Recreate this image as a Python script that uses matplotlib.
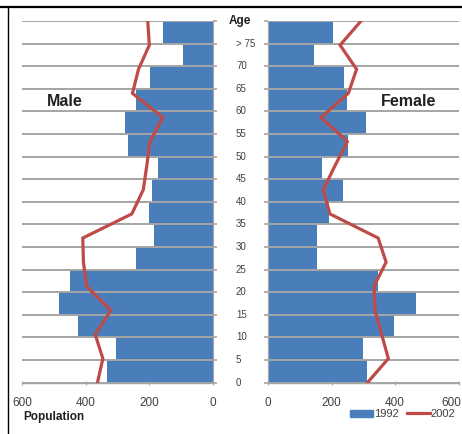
import numpy as np
import matplotlib
matplotlib.use('Agg')
import matplotlib.pyplot as plt
from matplotlib.transforms import blended_transform_factory, ScaledTranslation
from matplotlib.patches import Patch
from matplotlib.lines import Line2D

plt.rcParams['font.family'] = ['Liberation Sans', 'DejaVu Sans']

# age groups, bottom to top (label sits on the lower edge of each band)
age_labels = ['0', '5', '10', '15', '20', '25', '30', '35', '40', '45',
              '50', '55', '60', '65', '70', '> 75']

male_1992 = [334, 306, 425, 483, 449, 242, 184, 201, 191, 174, 266, 276, 242, 198, 95, 158]
female_1992 = [312, 298, 397, 465, 347, 153, 153, 192, 235, 169, 253, 308, 250, 240, 145, 206]
male_2002 = [363, 346, 370, 321, 397, 407, 409, 255, 219, 208, 198, 158, 253, 234, 200, 205]
female_2002 = [313, 379, 358, 337, 334, 372, 347, 195, 174, 211, 250, 167, 253, 279, 227, 293]

x_ticks = [0, 200, 400, 600]

BLUE = '#4A7EBB'
RED = '#BE4B48'
GRID = '#A5A5A5'
TXT = '#404040'

W, H = 462, 434
fig = plt.figure(figsize=(W / 100, H / 100), dpi=100)

n = len(age_labels)
bar_y = np.arange(n) + 0.5
line_y = np.linspace(0, n, len(male_2002))   # line points span the full height

ax_m = fig.add_axes([22 / W, 1 - 382.7 / H, 191 / W, 361.7 / H])
ax_f = fig.add_axes([268 / W, 1 - 382.7 / H, 190.5 / W, 361.7 / H])

for ax, bars, line in [(ax_m, male_1992, male_2002), (ax_f, female_1992, female_2002)]:
    ax.barh(bar_y, bars, height=1.0, color=BLUE, zorder=1)
    ax.plot(line, line_y, color=RED, lw=2.3, zorder=3, solid_joinstyle='miter')
    ax.set_ylim(0, n)
    ax.set_xlim(0, 600)
    ax.set_xticks(x_ticks)
    ax.set_xticklabels([str(t) for t in x_ticks])
    ax.set_yticks(np.arange(n + 1))
    ax.set_yticklabels([])
    ax.yaxis.grid(True, color=GRID, lw=1.4, zorder=2)
    ax.set_axisbelow(False)
    for s in ax.spines.values():
        s.set_visible(False)
    ax.spines['bottom'].set_visible(True)
    ax.spines['bottom'].set_color(GRID)
    ax.spines['bottom'].set_linewidth(1.0)
    ax.tick_params(axis='x', colors=GRID, labelcolor=TXT, labelsize=8.5,
                   length=3, direction='inout', pad=9)
    ax.tick_params(axis='y', colors=GRID, length=3, width=1.2, direction='out')

# male side runs right to left
ax_m.invert_xaxis()
ax_m.yaxis.tick_right()
ax_m.spines['right'].set_visible(True)
ax_m.spines['right'].set_color(GRID)
ax_f.spines['left'].set_visible(True)
ax_f.spines['left'].set_color(GRID)

# keep the last female tick label inside the image
last = ax_f.get_xticklabels()[-1]
last.set_transform(last.get_transform() + ScaledTranslation(-7 / 100, 0, fig.dpi_scale_trans))

# age labels between the two panels
tr = blended_transform_factory(fig.transFigure, ax_f.transData)
for i, lab in enumerate(age_labels):
    fig.text(236 / W, i, lab, transform=tr, ha='left', va='center',
             fontsize=7, color=TXT)
fig.text(229 / W, n, 'Age', transform=tr, ha='left', va='center',
         fontsize=8.5, fontweight='bold', color='#202020')

fig.text(65 / W, 1 - 102 / H, 'Male', ha='center', va='center',
         fontsize=11.5, fontweight='bold', color='#202020')
fig.text(409 / W, 1 - 102 / H, 'Female', ha='center', va='center',
         fontsize=11.5, fontweight='bold', color='#202020')
fig.text(23 / W, 1 - 417 / H, 'Population', ha='left', va='center',
         fontsize=8.5, fontweight='bold', color='#202020')

handles = [Patch(color=BLUE), Line2D([], [], color=RED, lw=2.3)]
fig.legend(handles, ['1992', '2002'], loc='center',
           bbox_to_anchor=(403 / W, 1 - 414 / H), ncol=2, frameon=False,
           fontsize=8, handlelength=2.0, handleheight=0.6, handletextpad=0.1,
           columnspacing=0.8, labelcolor=TXT)

# page border fragments
fig.add_artist(Line2D([0, 1], [1 - 7 / H, 1 - 7 / H], color='black', lw=1.6,
                      transform=fig.transFigure))
fig.add_artist(Line2D([8 / W, 8 / W], [0, 1 - 7 / H], color='black', lw=1.0,
                      transform=fig.transFigure))

fig.savefig('out.png', dpi=100)
